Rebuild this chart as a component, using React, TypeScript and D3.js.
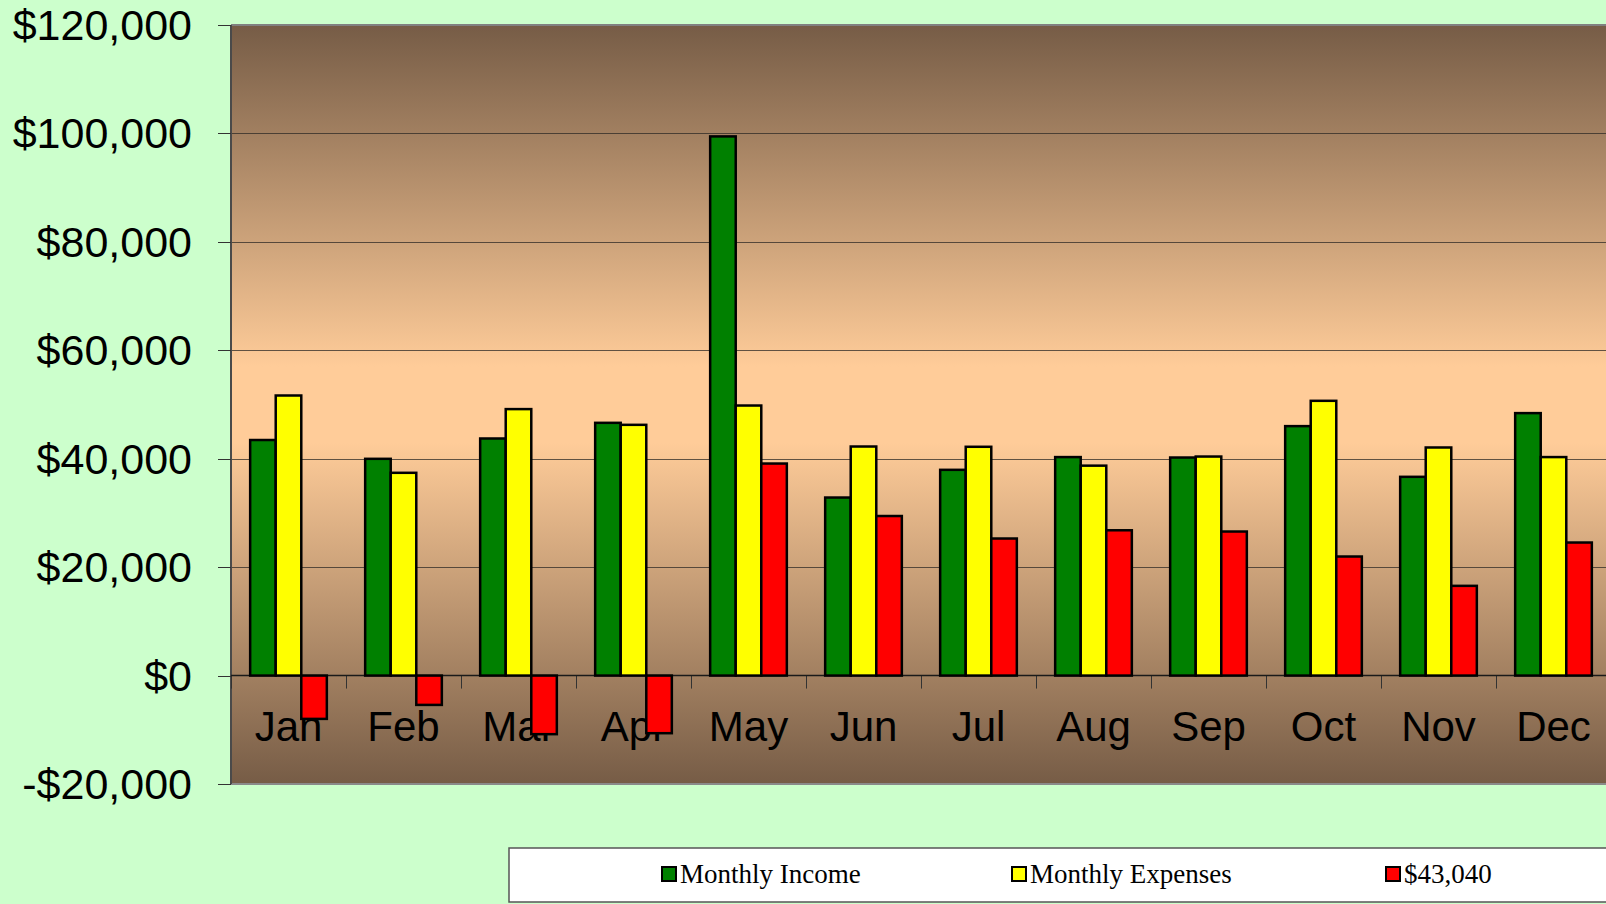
import React from "react";
import * as d3 from "d3";

const months = ["Jan", "Feb", "Mar", "Apr", "May", "Jun", "Jul", "Aug", "Sep", "Oct", "Nov", "Dec"];
const seriesNames = ["Monthly Income", "Monthly Expenses", "$43,040"];
const seriesColors = ["#008000", "#ffff00", "#ff0000"];
const income = [43450, 39980, 43730, 46620, 99450, 32840, 37950, 40300, 40220, 46010, 36660, 48410];
const expenses = [51660, 37400, 49150, 46250, 49810, 42250, 42200, 38720, 40400, 50680, 42070, 40300];
const balance = [-7990, -5410, -10810, -10630, 39110, 29430, 25280, 26800, 26570, 21960, 16550, 24540];
const yTicks = [-20000, 0, 20000, 40000, 60000, 80000, 100000, 120000];

const W = 1606;
const H = 904;
const plotLeft = 231;
const plotTop = 25;
const plotBottom = 784;
const catStep = 115;

export default function App() {
  const series = [income, expenses, balance];
  const y = d3.scaleLinear().domain([-20000, 120000]).range([plotBottom, plotTop]);
  const x0 = d3
    .scaleBand<string>()
    .domain(months)
    .range([plotLeft, plotLeft + catStep * months.length])
    .padding(0);
  const x1 = d3
    .scaleBand<number>()
    .domain(d3.range(series.length))
    .range([0, x0.bandwidth()])
    .paddingInner(0)
    .paddingOuter(0.75);
  const fmt = (v: number) => (v < 0 ? "-$" : "$") + d3.format(",")(Math.abs(v));
  const plotRight = W + 20;
  const zero = y(0);
  const legendSwatchX = [662, 1012, 1386];

  return (
    <div style={{ position: "fixed", left: 0, top: 0, width: W, height: H }}>
      <svg width={W} height={H} style={{ display: "block" }}>
        <defs>
          <linearGradient id="plotGrad" x1="0" y1="0" x2="0" y2="1">
            <stop offset="0" stopColor="#765c46" />
            <stop offset="0.45" stopColor="#ffcc99" />
            <stop offset="0.55" stopColor="#ffcc99" />
            <stop offset="1" stopColor="#765c46" />
          </linearGradient>
        </defs>
        <rect x={0} y={0} width={W} height={H} fill="#ccffcc" />
        <rect
          x={plotLeft}
          y={plotTop}
          width={plotRight - plotLeft}
          height={plotBottom - plotTop}
          fill="url(#plotGrad)"
        />
        <line x1={plotLeft} x2={plotRight} y1={plotTop} y2={plotTop} stroke="#808080" strokeWidth={2} />
        <line x1={plotLeft} x2={plotRight} y1={plotBottom} y2={plotBottom} stroke="#8a8a8a" strokeWidth={2} />
        {yTicks
          .filter((t) => t !== 0 && t !== -20000 && t !== 120000)
          .map((t) => (
            <line
              key={"g" + t}
              x1={plotLeft}
              x2={plotRight}
              y1={Math.round(y(t)) + 0.5}
              y2={Math.round(y(t)) + 0.5}
              stroke="#2e2a26"
              strokeOpacity={0.75}
              strokeWidth={1}
            />
          ))}
        <line x1={plotLeft} x2={plotLeft} y1={plotTop} y2={plotBottom} stroke="#4a4a4a" strokeWidth={2} />
        {yTicks.map((t) => (
          <g key={"t" + t}>
            <line
              x1={218}
              x2={plotLeft}
              y1={Math.round(y(t)) + 0.5}
              y2={Math.round(y(t)) + 0.5}
              stroke="#333"
              strokeWidth={1}
            />
            <text
              x={192}
              y={y(t) + 15}
              textAnchor="end"
              fontFamily="Liberation Sans, Arial, sans-serif"
              fontSize={43}
              fill="#000"
            >
              {fmt(t)}
            </text>
          </g>
        ))}
        {months.map((m) => (
          <line
            key={"ct" + m}
            x1={x0(m)! + 0.5}
            x2={x0(m)! + 0.5}
            y1={zero}
            y2={zero + 13}
            stroke="#333"
            strokeWidth={1}
          />
        ))}
        {months.map((m) => (
          <text
            key={"ml" + m}
            x={x0(m)! + x0.bandwidth() / 2}
            y={741}
            textAnchor="middle"
            fontFamily="Liberation Sans, Arial, sans-serif"
            fontSize={42}
            fill="#000"
          >
            {m}
          </text>
        ))}
        <line x1={plotLeft} x2={plotRight} y1={zero} y2={zero} stroke="#1a1a1a" strokeWidth={1.5} />
        {series.map((vals, s) =>
          vals.map((v, i) => {
            const bx = x0(months[i])! + x1(s)!;
            const top = y(Math.max(0, v));
            const bot = y(Math.min(0, v));
            return (
              <rect
                key={"b" + s + "-" + i}
                x={bx}
                y={top}
                width={x1.bandwidth()}
                height={bot - top}
                fill={seriesColors[s]}
                stroke="#000"
                strokeWidth={2.5}
              />
            );
          })
        )}
        <rect x={509} y={848} width={W} height={54} fill="#ffffff" stroke="#555" strokeWidth={1.5} />
        {seriesNames.map((n, s) => (
          <g key={"lg" + s}>
            <rect
              x={legendSwatchX[s]}
              y={867}
              width={14}
              height={14}
              fill={seriesColors[s]}
              stroke="#000"
              strokeWidth={2}
            />
            <text
              x={legendSwatchX[s] + 18}
              y={883}
              fontFamily="Liberation Serif, Times New Roman, serif"
              fontSize={27}
              fill="#000"
            >
              {n}
            </text>
          </g>
        ))}
      </svg>
    </div>
  );
}
